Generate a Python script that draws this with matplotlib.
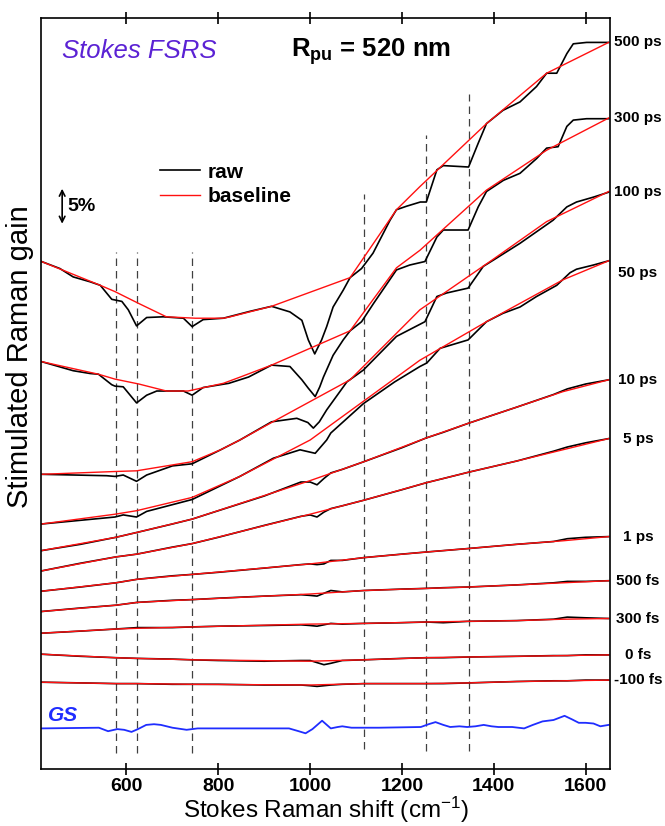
import matplotlib
matplotlib.use("Agg")
import matplotlib.pyplot as plt

plt.rcParams['font.family'] = ['Liberation Sans', 'DejaVu Sans']
plt.rcParams['mathtext.fontset'] = 'custom'
plt.rcParams['mathtext.rm'] = 'Liberation Sans'
plt.rcParams['mathtext.bf'] = 'Liberation Sans:bold'
plt.rcParams['mathtext.it'] = 'Liberation Sans:italic'

# --- data (Raman shift in cm-1, gain in % incl. vertical offsets) ---
x_raw_500ps = [415, 455, 484, 521, 543, 568, 590, 604, 622, 644, 680, 724, 743, 767, 811, 870, 916, 956, 982, 996,
               1010, 1025, 1036, 1050, 1072, 1087, 1112, 1137, 1174, 1188, 1210, 1240, 1253, 1276, 1290, 1318, 1345,
               1366, 1384, 1420, 1457, 1493, 1515, 1537, 1559, 1573, 1602, 1650]
raw_500ps = [72.5, 71.5, 70.3, 69.6, 69.1, 67.1, 66.8, 65.6, 63.3, 64.5, 64.6, 64.4, 63.2, 64.2, 64.4, 65.4, 66.1, 65.3,
             64.1, 61.3, 59.3, 61.3, 63.2, 66.0, 68.4, 70.2, 71.5, 73.7, 78.4, 79.9, 80.4, 81.0, 81.0, 85.6, 86.2, 86.1,
             86.0, 89.4, 92.2, 94.1, 95.3, 97.5, 99.4, 99.4, 102.2, 103.6, 103.8, 103.8]
x_base_500ps = [415, 543, 575, 627, 687, 750, 811, 826, 916, 1087, 1188, 1239, 1384, 1515, 1650]
base_500ps = [72.5, 69.1, 68.2, 66.5, 64.6, 64.4, 64.4, 64.6, 66.1, 70.2, 79.9, 83.2, 92.2, 99.4, 103.8]

x_raw_300ps = [415, 484, 521, 539, 568, 575, 593, 622, 644, 666, 724, 743, 767, 823, 866, 916, 956, 982, 996, 1011,
               1021, 1029, 1050, 1072, 1087, 1112, 1138, 1188, 1217, 1250, 1276, 1290, 1344, 1366, 1384, 1421, 1457,
               1493, 1515, 1540, 1559, 1573, 1602, 1650]
raw_300ps = [58.2, 56.9, 56.5, 56.4, 54.9, 54.7, 54.6, 52.3, 53.4, 54.0, 54.0, 53.4, 54.5, 55.1, 56.0, 57.7, 57.5, 55.6,
             54.4, 53.2, 54.6, 56.0, 59.1, 61.3, 62.6, 63.9, 66.5, 71.3, 72.0, 72.5, 76.0, 77.0, 77.0, 80.3, 82.5, 84.1,
             85.1, 87.2, 88.7, 88.9, 91.8, 92.7, 92.9, 92.9]
x_base_300ps = [415, 539, 575, 627, 687, 734, 811, 848, 916, 1087, 1188, 1239, 1384, 1515, 1650]
base_300ps = [58.2, 56.4, 55.7, 55.0, 54.0, 54.0, 55.1, 56.0, 57.7, 62.6, 71.6, 74.1, 82.7, 88.4, 93.0]

x_raw_100ps = [415, 557, 575, 593, 622, 644, 700, 743, 805, 847, 916, 971, 995, 1007, 1020, 1036, 1080, 1116, 1188,
               1250, 1276, 1297, 1344, 1377, 1399, 1457, 1529, 1559, 1580, 1617, 1650]
raw_100ps = [42.1, 41.9, 41.8, 42.0, 41.1, 42.0, 43.3, 43.6, 45.6, 47.0, 49.6, 50.1, 49.5, 48.7, 49.6, 51.3, 55.3, 57.0,
             61.8, 63.9, 67.5, 68.0, 68.7, 71.8, 72.7, 75.1, 78.4, 80.3, 81.0, 81.7, 82.4]
x_base_100ps = [415, 575, 622, 743, 805, 847, 916, 1087, 1239, 1396, 1515, 1650]
base_100ps = [42.1, 42.5, 42.6, 43.9, 45.6, 47.0, 49.5, 55.6, 65.6, 72.7, 78.2, 82.5]

x_raw_50ps = [415, 575, 593, 622, 644, 743, 847, 920, 978, 1011, 1036, 1045, 1116, 1184, 1239, 1254, 1283, 1344, 1384,
              1420, 1457, 1493, 1537, 1566, 1580, 1617, 1650]
raw_50ps = [35.0, 36.0, 36.3, 36.0, 36.8, 38.5, 41.8, 44.4, 45.6, 45.1, 47.0, 48.0, 52.2, 55.3, 57.5, 58.0, 60.1, 61.3,
            63.9, 65.1, 66.0, 67.5, 69.1, 70.9, 71.4, 72.0, 72.6]
x_base_50ps = [415, 575, 622, 743, 847, 1000, 1239, 1384, 1551, 1650]
base_50ps = [35.0, 36.4, 36.9, 38.8, 41.8, 47.0, 58.4, 63.9, 69.9, 72.6]

# later delays share one grid
x_flat = [415, 500, 577, 623, 700, 743, 800, 900, 980, 1000, 1015, 1030, 1045, 1070, 1117, 1200, 1253, 1290, 1345,
          1450, 1530, 1560, 1600, 1650]
x_flat_base = [415, 577, 623, 743, 1000, 1117, 1253, 1345, 1450, 1550, 1650]

raw_10ps = [31.2, 32.1, 33.1, 33.8, 35.0, 35.7, 36.9, 39.0, 41.0, 41.0, 40.6, 41.5, 42.3, 42.8, 43.9, 45.9, 47.3, 48.1,
            49.4, 51.7, 53.5, 54.3, 55.0, 55.6]
base_10ps = [31.2, 33.1, 33.8, 35.7, 41.2, 43.9, 47.3, 49.4, 51.7, 53.9, 55.6]
raw_5ps = [28.3, 29.4, 30.3, 30.7, 31.7, 32.2, 33.1, 34.8, 36.1, 36.3, 36.0, 36.7, 37.2, 37.6, 38.4, 39.9, 40.9, 41.5,
           42.4, 44.0, 45.4, 46.0, 46.6, 47.2]
base_5ps = [28.3, 30.3, 30.7, 32.2, 36.4, 38.4, 40.9, 42.4, 44.0, 45.6, 47.2]
raw_1ps = [25.4, 26.0, 26.6, 27.1, 27.6, 27.8, 28.1, 28.7, 29.2, 29.3, 29.2, 29.3, 29.8, 29.8, 30.2, 30.7, 31.0, 31.2,
           31.5, 32.1, 32.5, 32.9, 33.1, 33.2]
base_1ps = [25.4, 26.6, 27.1, 27.8, 29.3, 30.2, 31.0, 31.5, 32.1, 32.6, 33.2]
raw_500fs = [22.5, 23.0, 23.4, 23.8, 24.1, 24.2, 24.4, 24.7, 24.9, 24.8, 24.7, 25.1, 25.5, 25.3, 25.5, 25.7, 25.8, 25.9,
             26.0, 26.3, 26.6, 26.8, 26.8, 26.9]
base_500fs = [22.5, 23.4, 23.8, 24.2, 25.0, 25.5, 25.8, 26.0, 26.3, 26.6, 26.9]
raw_300fs = [19.4, 19.7, 20.0, 20.2, 20.2, 20.3, 20.4, 20.5, 20.6, 20.5, 20.4, 20.6, 20.8, 20.7, 20.8, 20.9, 21.0, 20.9,
             21.1, 21.2, 21.4, 21.7, 21.6, 21.5]
base_300fs = [19.4, 20.0, 20.1, 20.3, 20.7, 20.8, 21.0, 21.1, 21.2, 21.4, 21.5]
raw_0fs = [16.4, 16.1, 15.9, 15.8, 15.7, 15.6, 15.5, 15.4, 15.5, 15.5, 15.2, 14.9, 15.1, 15.5, 15.6, 15.8, 15.9, 15.9,
           16.0, 16.1, 16.2, 16.2, 16.3, 16.3]
base_0fs = [16.4, 15.9, 15.8, 15.6, 15.4, 15.6, 15.9, 16.0, 16.1, 16.2, 16.3]
raw_m100fs = [12.4, 12.3, 12.2, 12.2, 12.1, 12.1, 12.1, 12.0, 12.0, 11.9, 11.8, 11.9, 12.0, 12.1, 12.2, 12.2, 12.2,
              12.2, 12.3, 12.5, 12.6, 12.6, 12.7, 12.7]
base_m100fs = [12.4, 12.2, 12.2, 12.1, 12.0, 12.2, 12.2, 12.3, 12.5, 12.6, 12.7]

# ground state spectrum
x_gs = [415, 540, 560, 580, 595, 611, 625, 643, 660, 675, 700, 731, 755, 954, 975, 990, 1005, 1026, 1045, 1060,
        1070, 1090, 1150, 1241, 1258, 1273, 1290, 1305, 1325, 1342, 1360, 1378, 1395, 1410, 1440, 1466, 1485, 1506,
        1530, 1554, 1570, 1585, 1600, 1617, 1632, 1650]
y_gs = [5.8, 5.9, 5.4, 5.7, 5.6, 5.3, 5.7, 6.3, 6.4, 6.3, 5.9, 5.6, 5.8, 5.8, 5.4, 5.1, 5.7, 6.9, 5.8, 6.0,
        6.1, 5.9, 5.9, 6.0, 6.4, 6.7, 6.3, 6.0, 6.1, 6.0, 6.1, 6.3, 6.1, 6.0, 6.0, 5.8, 6.3, 6.8,
        7.0, 7.6, 7.1, 6.6, 6.6, 6.5, 6.1, 6.3]

delays = ['500 ps', '300 ps', '100 ps', '50 ps', '10 ps', '5 ps', '1 ps', '500 fs', '300 fs', '0 fs', '-100 fs']

# vertical guide lines
mode_x = [577, 623, 743, 1117, 1253, 1345]
mode_top = [73.9, 73.9, 73.9, 82.2, 90.6, 96.4]
mode_bottom = [2.3, 2.3, 2.3, 2.8, 2.6, 2.6]

traces = [
    (x_raw_500ps, raw_500ps, x_base_500ps, base_500ps),
    (x_raw_300ps, raw_300ps, x_base_300ps, base_300ps),
    (x_raw_100ps, raw_100ps, x_base_100ps, base_100ps),
    (x_raw_50ps, raw_50ps, x_base_50ps, base_50ps),
    (x_flat, raw_10ps, x_flat_base, base_10ps),
    (x_flat, raw_5ps, x_flat_base, base_5ps),
    (x_flat, raw_1ps, x_flat_base, base_1ps),
    (x_flat, raw_500fs, x_flat_base, base_500fs),
    (x_flat, raw_300fs, x_flat_base, base_300fs),
    (x_flat, raw_0fs, x_flat_base, base_0fs),
    (x_flat, raw_m100fs, x_flat_base, base_m100fs),
]
label_shift = [0, 0, 0, -9, 0, 0, 0, 0, 0, 0, 0]  # points

fig = plt.figure(figsize=(6.65, 8.26), dpi=100)
ax = fig.add_axes([0.0624, 0.069, 0.8549, 0.9088])

ax.vlines(mode_x, mode_bottom, mode_top, colors='#404040', linestyles=(0, (6, 4)), lw=0.9)

for (xr, yr, xb, yb), lab, dy in zip(traces, delays, label_shift):
    l_raw, = ax.plot(xr, yr, color='black', lw=1.2)
    l_base, = ax.plot(xb, yb, color='#ff1010', lw=1.0)
    ax.annotate(lab, xy=(1.049, yb[-1]), xycoords=ax.get_yaxis_transform(),
                xytext=(0, dy), textcoords='offset points', ha='center', va='center',
                fontsize=11, fontweight='bold', annotation_clip=False)

ax.plot(x_gs, y_gs, color='#1f2dff', lw=1.3)
ax.text(429, 7.6, 'GS', color='#1f2dff', fontsize=15, fontweight='bold', fontstyle='italic',
        ha='left', va='center')

ax.set_xlim(415, 1653)
ax.set_ylim(0, 107.24)
ax.set_xticks([600, 800, 1000, 1200, 1400, 1600])
ax.set_yticks([])
ax.tick_params(axis='x', direction='inout', length=9, width=1.2, top=True, labelsize=14, pad=2)
for t in ax.get_xticklabels():
    t.set_fontweight('bold')
for s in ax.spines.values():
    s.set_linewidth(1.2)

ax.set_xlabel('Stokes Raman shift (cm$^{-1}$)', fontsize=17.5, va='center')
ax.xaxis.set_label_coords(0.501, -0.054)
ax.set_ylabel('Stimulated Raman gain', fontsize=21, va='center')
ax.yaxis.set_label_coords(-0.038, 0.55)

ax.text(627, 102.6, 'Stokes FSRS', color='#5b22d4', fontsize=18.5, fontstyle='italic', ha='center', va='center')
ax.text(1132, 102.5, r'$\mathbf{R_{pu}}$ = 520 nm', fontsize=18.5, fontweight='bold', ha='center', va='center')

ax.legend([l_raw, l_base], ['raw', 'baseline'], frameon=False, prop={'weight': 'bold', 'size': 15},
          handlelength=1.9, handletextpad=0.4, labelspacing=0.25, borderpad=0, borderaxespad=0,
          loc='center left', bbox_to_anchor=(0.2085, 0.779))

# 5 % scale bar
ax.annotate('', xy=(460, 77.9), xytext=(460, 82.9),
            arrowprops=dict(arrowstyle='<->', lw=1.2, color='black', shrinkA=0, shrinkB=0, mutation_scale=10))
ax.text(472, 80.4, '5%', fontsize=14, fontweight='bold', ha='left', va='center')

fig.savefig('out.png', dpi=100)
